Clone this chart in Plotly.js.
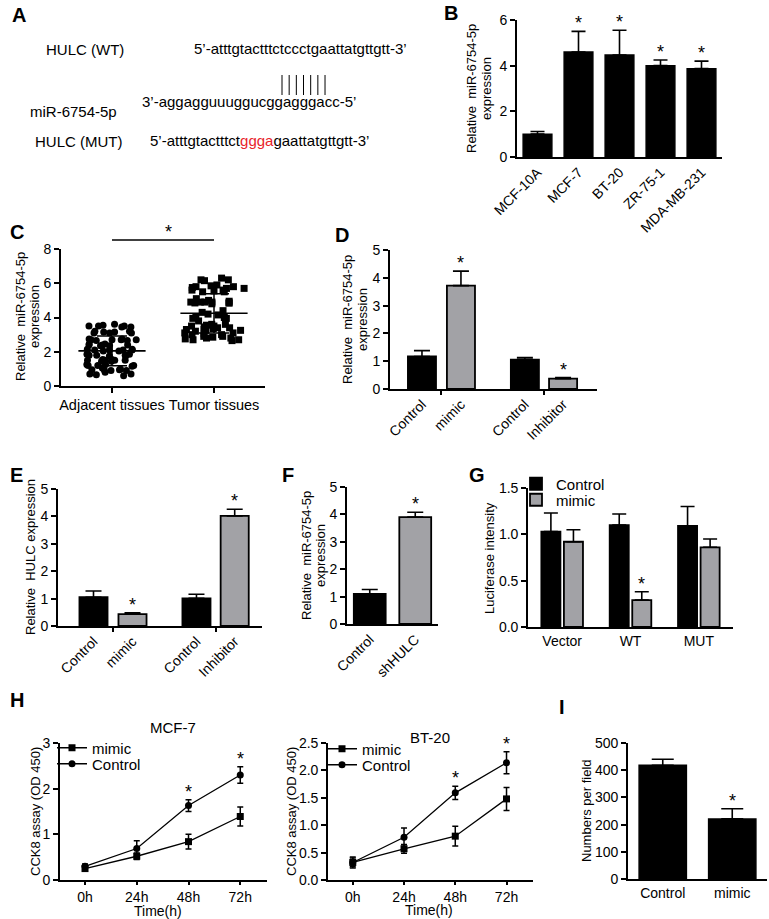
<!DOCTYPE html>
<html><head><meta charset="utf-8">
<script src="https://cdn.plot.ly/plotly-3.0.1.min.js"></script>
<style>html,body{margin:0;padding:0;background:#fff}#chart{width:769px;height:919px}</style>
</head><body><div id="chart"></div>
<script>
// ===================== DATA =====================
// B: miR-6754-5p in cell lines
const bCats = ['MCF-10A','MCF-7','BT-20','ZR-75-1','MDA-MB-231'];
const bVals = [1.0, 4.6, 4.47, 4.0, 3.87];
const bErr  = [0.12, 0.9, 1.08, 0.25, 0.33];
const bSig  = [false, true, true, true, true];

// C: tissues scatter
const cCats = ['Adjacent tissues','Tumor tissues'];
const cAdjacent = [3.55,3.5,3.5,3.45,3.5,3.6,3.45,
  3.15,3.1,3.2,3.1,3.15,3.2,3.1,
  2.75,2.7,2.65,2.7,2.75,2.7,2.65,2.7,
  2.4,2.35,2.45,2.4,2.35,2.4,2.45,
  2.1,2.15,2.05,2.1,2.15,2.1,2.05,2.1,
  1.8,1.85,1.75,1.8,1.85,1.8,1.75,
  1.5,1.45,1.55,1.5,1.45,1.5,1.55,1.5,
  1.2,1.25,1.15,1.2,1.25,1.2,1.05,
  0.95,0.9,1.0,0.95,0.9,0.95,0.8,
  0.65,0.7,0.6,0.7];
const cTumor = [6.2,6.15,6.2,6.3,
  5.9,5.85,5.8,5.7,5.6,5.5,5.5,5.55,5.6,5.7,5.75,5.8,
  5.1,5.0,4.95,
  4.9,4.85,4.9,4.8,4.85,4.9,4.85,4.9,
  4.4,4.3,4.2,4.15,4.0,3.95,
  4.0,3.95,3.8,
  3.6,3.55,3.5,3.45,3.4,3.35,3.3,3.25,3.2,3.25,3.3,3.4,3.5,3.6,
  3.1,3.05,3.0,2.9,2.85,2.8,2.75,2.7,2.65,2.7,2.8,2.9,3.0,3.1];

// D: miR-6754-5p after mimic / inhibitor
const dCats = ['Control','mimic','Control','Inhibitor'];
const dVals = [1.17, 3.72, 1.06, 0.37];
const dErr  = [0.21, 0.52, 0.07, 0.04];
const dSig  = [false, true, false, true];

// E: HULC expression
const eCats = ['Control','mimic','Control','Inhibitor'];
const eVals = [1.05, 0.43, 1.01, 4.02];
const eErr  = [0.23, 0.05, 0.15, 0.24];
const eSig  = [false, true, false, true];

// F: miR-6754-5p after shHULC
const fCats = ['Control','shHULC'];
const fVals = [1.1, 3.9];
const fErr  = [0.16, 0.18];
const fSig  = [false, true];

// G: luciferase
const gCats = ['Vector','WT','MUT'];
const gControl    = [1.03, 1.10, 1.09];
const gControlErr = [0.20, 0.12, 0.21];
const gMimic      = [0.92, 0.29, 0.86];
const gMimicErr   = [0.13, 0.09, 0.09];
const gMimicSig   = [false, true, false];

// H: CCK8
const hTimes = [0, 24, 48, 72];
const hTickText = ['0h', '24h', '48h', '72h'];
const mcfMimic      = [0.25, 0.52, 0.84, 1.39];
const mcfMimicErr   = [0.05, 0.07, 0.16, 0.21];
const mcfControl    = [0.30, 0.69, 1.63, 2.30];
const mcfControlErr = [0.05, 0.17, 0.13, 0.18];
const mcfSig        = [false, false, true, true];
const btMimic       = [0.32, 0.57, 0.80, 1.48];
const btMimicErr    = [0.10, 0.08, 0.18, 0.21];
const btControl     = [0.32, 0.78, 1.59, 2.14];
const btControlErr  = [0.08, 0.17, 0.12, 0.20];
const btSig         = [false, false, true, true];

// I: numbers per field
const iCats = ['Control','mimic'];
const iVals = [418, 221];
const iErr  = [22, 37];
const iSig  = [false, true];

// ===================== STYLE / LAYOUT HELPERS =====================
const BLACK = '#000000', GREY = '#a2a2a6', RED = '#e8232b';
const FONT = '"Liberation Sans", Arial, Helvetica, sans-serif';
const W = 769, H = 919;
const px = v => v / W, py = v => 1 - v / H;
const dx = (a, b) => [a / W, b / W];
const dy = (t, b) => [1 - b / H, 1 - t / H];
const BARGAP = 0.34, BARGROUPGAP = 0.155;

const baseAx = {showline:true, linecolor:BLACK, linewidth:1.6, showgrid:false, zeroline:false,
  ticks:'outside', ticklen:5, tickwidth:1.6, tickcolor:BLACK,
  tickfont:{size:14, color:BLACK}, fixedrange:true, automargin:false};
const ax = o => Object.assign({}, baseAx, o);

const upErr = (arr, w) => ({type:'data', symmetric:false, array:arr, arrayminus:arr.map(() => 0),
  color:BLACK, thickness:1.6, width:w});
const symErr = (arr, w) => ({type:'data', array:arr, color:BLACK, thickness:1.5, width:w});

const mean = a => a.reduce((s, v) => s + v, 0) / a.length;
const sd = a => { const m = mean(a); return Math.sqrt(a.reduce((s, v) => s + (v - m) * (v - m), 0) / (a.length - 1)); };

// positions for grouped-gap bar panels (D, E)
const pairPos = [0, 1, 2.64, 3.62];
const pairKinds = [0, 1, 0, 1];
const pairTicks = [0.5, 3.13];

const annotations = [];
const shapes = [];
function star(xref, yref, x, y) {
  annotations.push({xref, yref, x, y, text:'*', showarrow:false, yanchor:'bottom', yshift:-4,
    font:{size:18, color:BLACK}});
}
function txt(x, y, t, anchor, size, extra) {
  annotations.push(Object.assign({xref:'paper', yref:'paper', x:px(x), y:py(y), text:t, showarrow:false,
    xanchor:anchor, yanchor:'middle', font:{size:size, color:BLACK}}, extra || {}));
}
// vertical axis title: one annotation per line, centred at given x (px) and y (px)
function vtitle(lines, xs, yc) {
  lines.forEach((l, k) => txt(xs[k], yc, l, 'center', 13, {textangle:-90}));
}

const traces = [];

// ---- B ----
traces.push({type:'bar', x:bCats, y:bVals, width:0.7, xaxis:'x', yaxis:'y', showlegend:false,
  marker:{color:BLACK, line:{color:BLACK, width:1.5}}, error_y:upErr(bErr, 7)});
bCats.forEach((c, i) => { if (bSig[i]) star('x', 'y', i, bVals[i] + bErr[i]); });

// ---- C ----
[[cAdjacent, 'circle'], [cTumor, 'square']].forEach(([vals, sym], k) => {
  traces.push({type:'box', x:vals.map(() => cCats[k]), y:vals, xaxis:'x2', yaxis:'y2', showlegend:false,
    boxpoints:'all', jitter:1, pointpos:0, width:0.68, hoverinfo:'y',
    marker:{symbol:sym, size:7, color:BLACK}, line:{color:'rgba(0,0,0,0)', width:0},
    fillcolor:'rgba(0,0,0,0)'});
});
traces.push({type:'scatter', mode:'markers', x:cCats, y:[mean(cAdjacent), mean(cTumor)],
  xaxis:'x2', yaxis:'y2', showlegend:false, cliponaxis:false,
  marker:{symbol:'line-ew', size:48, color:BLACK, line:{color:BLACK, width:1.6}},
  error_y:symErr([sd(cAdjacent), sd(cTumor)], 15)});

// ---- D ----
traces.push({type:'bar', x:pairPos, y:dVals, width:0.72, xaxis:'x3', yaxis:'y3', showlegend:false,
  marker:{color:pairKinds.map(k => k ? GREY : BLACK), line:{color:BLACK, width:1.8}},
  error_y:upErr(dErr, 8)});
dVals.forEach((v, i) => { if (dSig[i]) star('x3', 'y3', pairPos[i], v + dErr[i]); });
traces.push({type:'scatter', x:[], y:[], xaxis:'x10', yaxis:'y3', showlegend:false});

// ---- E ----
traces.push({type:'bar', x:pairPos, y:eVals, width:0.72, xaxis:'x4', yaxis:'y4', showlegend:false,
  marker:{color:pairKinds.map(k => k ? GREY : BLACK), line:{color:BLACK, width:1.8}},
  error_y:upErr(eErr, 8)});
eVals.forEach((v, i) => { if (eSig[i]) star('x4', 'y4', pairPos[i], v + eErr[i]); });
traces.push({type:'scatter', x:[], y:[], xaxis:'x11', yaxis:'y4', showlegend:false});

// ---- F ----
traces.push({type:'bar', x:fCats, y:fVals, width:0.7, xaxis:'x5', yaxis:'y5', showlegend:false,
  marker:{color:[BLACK, GREY], line:{color:BLACK, width:1.8}}, error_y:upErr(fErr, 8)});
fVals.forEach((v, i) => { if (fSig[i]) star('x5', 'y5', i, v + fErr[i]); });

// ---- G ----
traces.push({type:'bar', name:'Control', x:gCats, y:gControl, xaxis:'x6', yaxis:'y6', legend:'legend',
  marker:{color:BLACK, line:{color:BLACK, width:1.8}}, error_y:upErr(gControlErr, 7)});
traces.push({type:'bar', name:'mimic', x:gCats, y:gMimic, xaxis:'x6', yaxis:'y6', legend:'legend4',
  marker:{color:GREY, line:{color:BLACK, width:1.8}}, error_y:upErr(gMimicErr, 7)});
const gOff = (1 - BARGAP) / 4;
gMimic.forEach((v, i) => { if (gMimicSig[i]) star('x6', 'y6', i + gOff, v + gMimicErr[i]); });

// ---- H ----
function cck(xa, ya, legM, legC, mim, mimE, ctl, ctlE, sig) {
  traces.push({type:'scatter', mode:'lines+markers', name:'mimic', x:hTimes, y:mim, xaxis:xa, yaxis:ya,
    legend:legM, cliponaxis:false, line:{color:BLACK, width:1.3},
    marker:{symbol:'square', size:7, color:BLACK}, error_y:symErr(mimE, 3)});
  traces.push({type:'scatter', mode:'lines+markers', name:'Control', x:hTimes, y:ctl, xaxis:xa, yaxis:ya,
    legend:legC, cliponaxis:false, line:{color:BLACK, width:1.3},
    marker:{symbol:'circle', size:7, color:BLACK}, error_y:symErr(ctlE, 3)});
  hTimes.forEach((t, i) => { if (sig[i]) star(xa, ya, t, Math.max(mim[i] + mimE[i], ctl[i] + ctlE[i])); });
}
cck('x7', 'y7', 'legend2', 'legend5', mcfMimic, mcfMimicErr, mcfControl, mcfControlErr, mcfSig);
cck('x8', 'y8', 'legend3', 'legend6', btMimic, btMimicErr, btControl, btControlErr, btSig);

// ---- I ----
traces.push({type:'bar', x:iCats, y:iVals, width:0.68, xaxis:'x9', yaxis:'y9', showlegend:false,
  marker:{color:BLACK, line:{color:BLACK, width:1.5}}, error_y:upErr(iErr, 11)});
iVals.forEach((v, i) => { if (iSig[i]) star('x9', 'y9', i, v + iErr[i]); });

// ---- Panel A text ----
const SEQ = 15;
txt(126, 50, 'HULC (WT)', 'right', SEQ);
txt(192, 48, '5\u2019-atttgtactttctccctgaattatgttgtt-3\u2019', 'left', SEQ);
txt(140, 101, '3\u2019-aggagguuuggucggagggacc-5\u2019', 'left', SEQ);
txt(28, 112, 'miR-6754-5p', 'left', SEQ);
txt(125, 141, 'HULC (MUT)', 'right', SEQ);
txt(148, 140, '5\u2019-atttgtactttct<span style="color:' + RED + '">ggga</span>gaattatgttgtt-3\u2019', 'left', SEQ);
for (let k = 0; k < 7; k++) {
  const xx = 282 + k * 7.17;
  shapes.push({type:'line', xref:'paper', yref:'paper', x0:px(xx), x1:px(xx), y0:py(75), y1:py(95),
    line:{color:BLACK, width:1}});
}

// panel letters
[['A',10,15],['B',442,13],['C',8,232],['D',333,235],['E',8,475],['F',280,475],['G',467,475],['H',8,700],['I',557,707]]
  .forEach(([l, x, y]) => txt(x, y, '<b>' + l + '</b>', 'left', 20));

// axis titles
const MIR = 'Relative\u00a0 miR-6754-5p';
vtitle([MIR, 'expression'], [472, 487], 89);        // B
vtitle([MIR, 'expression'], [20, 34], 317);         // C
vtitle([MIR, 'expression'], [348, 363], 320);       // D
vtitle(['Relative\u00a0 HULC expression'], [30], 557); // E
vtitle([MIR, 'expression'], [306, 320], 556);       // F
vtitle(['Luciferase intensity'], [489], 558);       // G
vtitle(['CCK8 assay (OD 450)'], [35], 812);         // H1
vtitle(['CCK8 assay (OD 450)'], [291], 812);        // H2
vtitle(['Numbers per field'], [586], 811);          // I
txt(158, 911, 'Time(h)', 'center', 14);
txt(429, 910, 'Time(h)', 'center', 14);

// H subplot titles
txt(173, 727, 'MCF-7', 'center', 15);
txt(430, 737, 'BT-20', 'center', 15);

// C significance line
const cDom = dx(61, 265);
const cFrac = i => cDom[0] + (i + 0.5) / 2 * (cDom[1] - cDom[0]);
shapes.push({type:'line', xref:'paper', yref:'paper', x0:cFrac(0), x1:cFrac(1), y0:py(240), y1:py(240),
  line:{color:BLACK, width:1.3}});
annotations.push({xref:'paper', yref:'paper', x:(cFrac(0) + cFrac(1)) / 2, y:py(240), text:'*',
  showarrow:false, yanchor:'bottom', yshift:-4, font:{size:18, color:BLACK}});

// ===================== LAYOUT =====================
const legBase = {bgcolor:'rgba(0,0,0,0)', borderwidth:0, xanchor:'left', yanchor:'middle',
  font:{size:15, color:BLACK}, itemwidth:30, tracegroupgap:0, itemclick:false, itemdoubleclick:false};
const leg = (x, y) => Object.assign({}, legBase, {x:px(x), y:py(y)});
const hX = {range:[-11.6,84.4], tickvals:hTimes, ticktext:hTickText, ticklen:3, tickfont:{size:14, color:BLACK}};

const layout = {
  width:W, height:H, margin:{l:0, r:0, t:0, b:0}, paper_bgcolor:'#fff', plot_bgcolor:'rgba(0,0,0,0)',
  font:{family:FONT, color:BLACK, size:15}, barmode:'group', bargap:BARGAP, bargroupgap:BARGROUPGAP,
  boxgap:0.3, hovermode:'closest', showlegend:true,
  legend:leg(516, 484), legend4:leg(516, 500),
  legend2:leg(52, 748), legend5:leg(52, 764),
  legend3:leg(322, 749), legend6:leg(322, 765),
  // B
  xaxis:ax({domain:dx(517,722), anchor:'y', type:'category', tickangle:-45, ticks:''}),
  yaxis:ax({domain:dy(20,157), anchor:'x', range:[0,6], dtick:2}),
  // C
  xaxis2:ax({domain:dx(61,265), anchor:'y2', type:'category', categoryorder:'array', categoryarray:cCats,
    range:[-0.5,1.5], tickangle:0, tickfont:{size:14.5, color:BLACK}}),
  yaxis2:ax({domain:dy(249,386), anchor:'x2', range:[0,8], dtick:2}),
  // D
  xaxis3:ax({domain:dx(390,597), anchor:'y3', range:[-0.82,4.49], tickvals:pairPos, ticktext:dCats, tickangle:-45, ticks:''}),
  xaxis10:ax({overlaying:'x3', anchor:'y3', range:[-0.82,4.49], tickvals:pairTicks, showticklabels:false, showline:false}),
  yaxis3:ax({domain:dy(250,389), anchor:'x3', range:[0,5], dtick:1}),
  // E
  xaxis4:ax({domain:dx(58,262), anchor:'y4', range:[-0.91,4.32], tickvals:pairPos, ticktext:eCats, tickangle:-45, ticks:''}),
  xaxis11:ax({overlaying:'x4', anchor:'y4', range:[-0.91,4.32], tickvals:pairTicks, showticklabels:false, showline:false}),
  yaxis4:ax({domain:dy(489,626), anchor:'x4', range:[0,5], dtick:1}),
  // F
  xaxis5:ax({domain:dx(347,438), anchor:'y5', type:'category', tickangle:-45, ticks:''}),
  yaxis5:ax({domain:dy(487,624), anchor:'x5', range:[0,5], dtick:1}),
  // G
  xaxis6:ax({domain:dx(528,733), anchor:'y6', type:'category', ticks:'', tickangle:0}),
  yaxis6:ax({domain:dy(488,627), anchor:'x6', range:[0,1.5], dtick:0.5, tickformat:'.1f'}),
  // H1
  xaxis7:ax(Object.assign({domain:dx(60,267), anchor:'y7'}, hX)),
  yaxis7:ax({domain:dy(743,880), anchor:'x7', range:[0,3], dtick:1}),
  // H2
  xaxis8:ax(Object.assign({domain:dx(328,533), anchor:'y8'}, hX)),
  yaxis8:ax({domain:dy(743,880), anchor:'x8', range:[0,2.5], dtick:0.5, tickformat:'.1f'}),
  // I
  xaxis9:ax({domain:dx(628,767), anchor:'y9', type:'category', ticks:'', tickangle:0}),
  yaxis9:ax({domain:dy(743,879), anchor:'x9', range:[0,500], dtick:100}),
  annotations, shapes
};

Plotly.newPlot('chart', traces, layout, {displayModeBar:false, responsive:false});
</script>
</body></html>
